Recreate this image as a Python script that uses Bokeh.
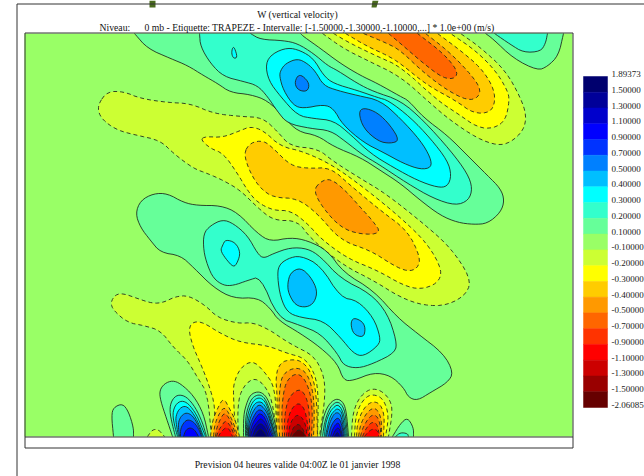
from bokeh.plotting import figure
from bokeh.models import Range1d
from bokeh.core.properties import value
from bokeh.embed import file_html
from bokeh.resources import INLINE

TITLE = "W (vertical velocity)"
SUB_A = "Niveau:"
SUB_B = "0 mb - Etiquette: TRAPEZE - Intervalle: [-1.50000,-1.30000,-1.10000,...] * 1.0e+00 (m/s)"
FOOT = "Prevision 04 heures valide 04:00Z le 01 janvier 1998"
LABELS = ["1.89373","1.50000","1.30000","1.10000","0.90000","0.70000","0.50000","0.40000","0.30000","0.20000","0.10000",
          "-0.10000","-0.20000","-0.30000","-0.40000","-0.50000","-0.70000","-0.90000","-1.10000","-1.30000","-1.50000","-2.06085"]
COLOURS = ["#00006e","#000099","#0000cc","#0000ff","#0033ff","#0080ff","#00bfff","#00ffff","#33ffcc","#66ff99","#99ff66",
           "#ccff33","#ffff00","#ffcc00","#ff9900","#ff6600","#ff3300","#ff0000","#cc0000","#990000","#660000"]
LEVELS = [1.5,1.3,1.1,0.9,0.7,0.5,0.4,0.3,0.2,0.1,0,-0.1,-0.2,-0.3,-0.4,-0.5,-0.7,-0.9,-1.1,-1.3,-1.5]
FILL = dict(zip(LEVELS, COLOURS))

X0, X1, Y0, Y1, Y2 = 24, 572, 33, 436, 447

# Contours: (level, [(x, y), ...]); painted outer to inner
BAND_A = [
 (0.1,[(134,33),(147,48),(170,58),(187,65),(203,75),(217,83),(230,92),(250,94),(267,100),(283,116),(297,131),(317,135),(333,146),(360,157),(380,170),(400,183),(420,200),(440,215),(457,222),(473,224),(487,223),(500,212),(504,200),(500,188),(487,175),(467,155),(447,135),(423,117),(408,100),(400,96),(377,83),(360,75),(340,63),(320,48),(303,36),(300,33)]),
 (0.2,[(199,33),(200,46),(210,63),(223,76),(243,81),(257,85),(267,96),(277,111),(287,123),(310,128),(330,130),(345,141),(363,155),(377,163),(407,183),(433,198),(455,205),(468,200),(472,188),(467,173),(450,150),(423,120),(400,100),(373,91),(357,83),(337,70),(327,65),(313,53),(297,43),(283,40),(260,39),(250,33)]),
 (0.3,[(232,47),(234,47),(237,57),(233,58),(231,53)]),
 (0.3,[(265,63),(272,53),(287,47),(300,50),(313,58),(323,75),(333,83),(357,90),(377,97),(388,100),(410,117),(430,138),(447,160),(451,175),(447,186),(437,187),(417,180),(393,167),(370,153),(350,134),(333,120),(313,118),(297,115),(280,96),(268,80)]),
 (0.4,[(280,70),(285,63),(297,58),(307,63),(315,71),(323,85),(337,90),(357,95),(380,100),(400,118),(420,140),(430,157),(431,167),(420,169),(403,163),(383,152),(363,142),(342,124),(333,108),(323,104),(303,108),(293,105),(283,90),(279,76)]),
 (0.5,[(297,75),(302,75),(309,83),(307,91),(298,90),(294,83)]),
 (0.5,[(358,112),(363,107),(377,112),(390,125),(399,140),(390,143),(378,141),(363,128)]),
 (0.1,[(485,33),(492,38),(513,58),(537,70),(547,66),(558,55),(563,33)]),
 (0.2,[(494,33),(510,44),(523,52),(540,51),(545,43),(547,33)]),
]
BAND_B = [
 (-0.1,[(322,33),(343,48),(367,60),(400,76),(430,103),(450,120),(477,138),(497,145),(510,142),(523,130),(526,115),(520,97),(505,70),(480,47),(460,33)]),
 (-0.2,[(333,33),(350,43),(377,56),(400,66),(437,100),(457,113),(477,127),(493,128),(505,120),(509,100),(507,90),(495,70),(475,50),(450,33)]),
 (-0.3,[(345,33),(367,46),(387,55),(400,63),(427,85),(455,100),(473,113),(490,112),(495,100),(492,85),(480,67),(460,50),(437,33)]),
 (-0.4,[(363,33),(387,43),(400,50),(423,72),(447,90),(467,100),(478,97),(480,87),(467,70),(447,50),(425,33)]),
 (-0.5,[(388,33),(400,43),(423,63),(443,78),(455,78),(457,70),(443,53),(417,33)]),
]
BAND_C = [
 (-0.1,[(98,103),(107,91),(123,91),(140,98),(167,102),(190,103),(213,113),(240,116),(262,117),(277,131),(290,146),(317,148),(333,161),(360,178),(385,193),(423,223),(450,247),(470,277),(467,293),(447,305),(423,305),(400,297),(373,280),(343,265),(310,238),(297,220),(273,220),(257,207),(240,190),(223,180),(207,173),(193,168),(173,153),(160,140),(133,134),(118,130),(105,122),(98,113)]),
 (-0.2,[(200,139),(205,136),(222,137),(240,130),(250,126),(263,130),(280,146),(303,151),(333,165),(367,190),(400,217),(427,243),(442,270),(437,283),(420,289),(403,285),(377,270),(347,258),(320,238),(307,223),(290,210),(273,210),(257,202),(247,190),(237,173),(223,153),(210,148)]),
 (-0.3,[(243,153),(250,142),(263,140),(273,148),(290,165),(307,168),(330,167),(350,185),(380,210),(407,230),(420,257),(417,268),(407,271),(393,265),(370,250),(340,240),(317,213),(297,198),(273,197),(260,188),(250,173)]),
 (-0.4,[(313,190),(320,181),(330,178),(345,190),(360,207),(372,220),(381,233),(360,234),(340,227),(322,207)]),
]
BAND_D = [
 (0.1,[(135,213),(140,200),(153,193),(167,193),(183,202),(197,205),(220,205),(237,212),(257,233),(270,241),(290,237),(307,240),(327,250),(343,272),(373,290),(397,317),(417,333),(443,353),(453,372),(447,382),(430,392),(417,400),(408,397),(403,387),(390,375),(373,372),(353,380),(343,380),(337,363),(320,347),(300,333),(278,320),(270,308),(257,297),(233,298),(213,287),(193,267),(180,255),(160,252),(150,240),(140,227)]),
 (0.2,[(203,233),(210,225),(222,219),(233,223),(247,235),(257,253),(263,258),(273,253),(290,247),(307,248),(320,256),(340,278),(370,293),(387,313),(396,340),(395,352),(373,363),(357,368),(343,365),(337,353),(320,333),(300,325),(277,317),(260,276),(247,280),(233,285),(223,285),(213,278),(207,265),(203,250)]),
 (0.3,[(222,245),(225,239),(235,242),(240,252),(237,262),(233,267),(225,258),(220,250)]),
 (0.3,[(277,277),(278,265),(287,258),(300,255),(320,265),(340,297),(357,300),(373,317),(380,337),(378,345),(363,356),(353,353),(340,337),(323,320),(300,317),(287,312),(280,297)]),
 (0.4,[(287,283),(290,272),(300,267),(310,276),(317,290),(314,302),(306,307),(295,305),(288,293)]),
 (0.4,[(350,323),(353,317),(362,321),(365,328),(363,337),(353,334)]),
]
BAND_E = [
 (-0.1,[(211,436),(207,393),(197,377),(187,360),(173,347),(160,330),(143,325),(127,322),(113,310),(110,302),(115,294),(123,293),(137,298),(152,303),(163,302),(175,296),(188,295),(205,305),(217,317),(237,323),(253,322),(270,330),(280,337),(293,345),(313,355),(323,373),(325,395),(319,436)]),
 (-0.2,[(213,436),(215,407),(208,383),(200,363),(192,345),(188,328),(193,321),(203,322),(220,333),(240,342),(267,345),(287,353),(303,357),(313,370),(318,390),(317,436)]),
 (-0.1,[(235,436),(233,397),(233,383),(240,367),(252,360),(263,370),(275,387),(276,436)]),
 (0,[(238,436),(237,410),(240,390),(252,377),(263,383),(272,400),(276,436)]),
]
LOBE_A = [
 (-0.3,[(210,436),(212,420),(217,408),(223,397),(229,408),(235,420),(239,436)]),
 (-0.4,[(213,436),(214,425),(218,414),(224,406),(229,414),(234,425),(237,436)]),
 (-0.5,[(215,436),(216,428),(220,418),(224,412),(229,418),(233,428),(236,436)]),
 (-0.7,[(216,436),(218,430),(222,424),(225,420),(229,424),(232,430),(234,436)]),
 (-0.9,[(218,436),(220,432),(224,428),(226,427),(229,429),(232,436)]),
]
LOBE_B = [
 (-0.3,[(276,436),(277,400),(275,375),(280,362),(290,359),(300,360),(310,370),(316,392),(317,436)]),
 (-0.4,[(279,436),(278,410),(280,378),(287,370),(297,367),(306,372),(312,388),(314,410),(313,436)]),
 (-0.5,[(282,436),(281,410),(284,385),(290,376),(297,373),(304,378),(310,393),(312,412),(311,436)]),
 (-0.7,[(284,436),(284,415),(288,397),(298,388),(305,394),(309,410),(309,436)]),
 (-0.9,[(286,436),(287,420),(291,408),(298,402),(304,408),(307,422),(308,436)]),
 (-1.1,[(288,436),(289,425),(293,417),(298,414),(303,419),(306,428),(306,436)]),
 (-1.3,[(290,436),(292,428),(297,423),(302,427),(305,436)]),
 (-1.5,[(292,436),(295,431),(299,429),(303,432),(304,436)]),
]
LOBE_C = [
 (-0.1,[(351,436),(352,415),(357,400),(365,391),(373,388),(382,391),(390,400),(392,412),(388,436)]),
 (-0.2,[(354,436),(355,418),(359,405),(366,396),(373,394),(381,397),(386,406),(388,418),(385,436)]),
 (-0.3,[(356,436),(357,422),(362,410),(368,403),(374,401),(380,404),(384,415),(383,436)]),
 (-0.4,[(358,436),(360,424),(365,414),(371,408),(376,408),(381,418),(381,436)]),
 (-0.5,[(360,436),(362,428),(367,419),(372,414),(377,416),(380,425),(380,436)]),
 (-0.7,[(362,436),(366,427),(372,421),(377,424),(379,436)]),
 (-0.9,[(364,436),(368,431),(373,428),(378,431),(378,436)]),
]
LOBE_P1 = [
 (0.1,[(172,436),(166,418),(160,400),(159,390),(164,383),(172,380),(180,383),(193,395),(203,413),(208,436)]),
 (0.2,[(175,436),(172,425),(169,410),(171,400),(177,394),(186,396),(195,407),(202,422),(206,436)]),
 (0.3,[(177,436),(174,425),(172,413),(175,404),(181,400),(188,403),(196,414),(201,426),(205,436)]),
 (0.4,[(178,436),(176,425),(175,417),(178,409),(184,405),(190,409),(197,420),(203,436)]),
 (0.5,[(179,436),(178,428),(178,421),(181,415),(186,412),(192,415),(198,425),(202,436)]),
 (0.7,[(180,436),(180,428),(184,421),(188,419),(194,422),(199,430),(201,436)]),
 (0.9,[(183,436),(185,430),(189,427),(194,429),(198,436)]),
]
LOBE_P2 = [
 (0.1,[(243,436),(243,415),(246,403),(250,394),(257,391),(263,393),(268,400),(273,415),(277,436)]),
 (0.2,[(245,436),(245,417),(248,405),(252,397),(258,394),(263,396),(267,403),(272,418),(276,436)]),
 (0.3,[(246,436),(246,420),(249,408),(253,400),(258,397),(263,399),(267,406),(271,420),(275,436)]),
 (0.4,[(247,436),(247,422),(250,411),(254,403),(259,401),(263,403),(267,410),(271,423),(275,436)]),
 (0.5,[(248,436),(248,424),(251,414),(255,407),(259,404),(263,407),(267,413),(271,425),(274,436)]),
 (0.7,[(248,436),(249,426),(252,418),(256,411),(259,409),(263,411),(267,418),(270,427),(273,436)]),
 (0.9,[(249,436),(250,429),(253,421),(257,415),(259,413),(263,415),(266,421),(269,429),(272,436)]),
 (1.1,[(250,436),(251,431),(254,425),(258,420),(260,418),(263,420),(266,425),(268,431),(270,436)]),
 (1.3,[(252,436),(254,430),(257,425),(260,423),(263,425),(266,430),(268,436)]),
 (1.5,[(254,436),(257,431),(260,428),(263,431),(266,436)]),
]
LOBE_P3 = [
 (0.1,[(320,436),(322,420),(326,408),(331,401),(337,398),(343,402),(346,412),(348,436)]),
 (0.2,[(322,436),(324,422),(328,410),(332,404),(337,401),(342,405),(345,414),(347,436)]),
 (0.3,[(324,436),(325,423),(329,412),(333,407),(337,404),(341,408),(344,417),(346,436)]),
 (0.4,[(325,436),(327,425),(330,415),(334,410),(337,408),(341,411),(343,420),(345,436)]),
 (0.5,[(326,436),(328,426),(331,418),(334,413),(337,412),(340,414),(342,422),(344,436)]),
 (0.7,[(328,436),(330,427),(333,421),(337,417),(340,420),(342,428),(343,436)]),
 (0.9,[(330,436),(332,429),(335,424),(338,422),(340,427),(342,436)]),
 (1.1,[(332,436),(335,429),(338,427),(340,431),(341,436)]),
 (1.3,[(334,436),(337,431),(339,436)]),
]
SMALL = [
 (0.1,[(113,436),(111,415),(113,407),(122,403),(128,411),(133,427),(133,436)]),
 (-0.1,[(147,436),(152,429),(158,429),(164,436)]),
 (0.1,[(392,436),(400,423),(407,417),(413,427),(413,436)]),
 (0.2,[(395,436),(400,432),(407,433),(408,436)]),
]
CONTOURS = BAND_A + BAND_B + BAND_C + BAND_D + BAND_E + LOBE_A + LOBE_B + LOBE_C + LOBE_P1 + LOBE_P2 + LOBE_P3 + SMALL


def rounded(pts, closed):
    # corner rounding of the drawn curve (the read vertices stay as above)
    for _ in range(2):
        src = pts + pts[:1] if closed else pts
        out = [] if closed else [src[0]]
        for (a, b), (c, d) in zip(src[:-1], src[1:]):
            out.append((0.75 * a + 0.25 * c, 0.75 * b + 0.25 * d))
            out.append((0.25 * a + 0.75 * c, 0.25 * b + 0.75 * d))
        if not closed:
            out.append(src[-1])
        pts = out
    return pts


p = figure(width=644, height=476, x_range=Range1d(0, 644), y_range=Range1d(476, 0),
           x_axis_type=None, y_axis_type=None, toolbar_location=None, output_backend="svg",
           min_border=0, outline_line_color=None, background_fill_color="white", border_fill_color="white")
p.grid.visible = False
p.styles = {"position": "absolute", "left": "0px", "top": "0px"}

# tabs above the frame
for xs in ([149, 155, 155, 149], [372, 378, 376, 371]):
    p.patch(xs, [0, 0, 7, 7], fill_color="#4a6b1e", line_color=None)

# field
p.quad(left=[X0], right=[X1], top=[Y0], bottom=[Y1], fill_color=FILL[0], line_color=None)
for level, pts in CONTOURS:
    open_curve = pts[0][1] in (Y0, Y1) and pts[-1][1] in (Y0, Y1)
    curve = rounded(pts, not open_curve)
    xs = [a for a, b in curve]
    ys = [b for a, b in curve]
    p.patch(xs, ys, fill_color=FILL[level], line_color=None)
    if not open_curve:
        xs = xs + xs[:1]
        ys = ys + ys[:1]
    kw = dict(line_color="#1c261c", line_alpha=0.85, line_width=1, line_join="round")
    if level <= 0:
        kw["line_dash"] = "4 3"
    p.line(xs, ys, **kw)

# frames
frame = dict(line_color="#333333", line_width=1)
p.line([16.5, 16.5], [476, 3.5], **frame)
p.line([16.5, 644], [3.5, 3.5], **frame)
p.line([X0 + .5, X1 + .5, X1 + .5, X0 + .5, X0 + .5], [Y0 - .5, Y0 - .5, Y2 + .5, Y2 + .5, Y0 - .5], **frame)
p.line([X0 + .5, X1 + .5], [Y1 + .5, Y1 + .5], **frame)

# colour bar
step = (407 - 76) / len(COLOURS)
tops = [76 + step * i for i in range(len(COLOURS))]
p.quad(left=583, right=607, top=tops, bottom=[t + step for t in tops], fill_color=COLOURS, line_color=COLOURS, line_width=0.5)
p.text(x=[611] * len(LABELS), y=[73.5 + step * i for i in range(len(LABELS))], text=LABELS,
       text_font=value("Liberation Serif"), text_font_size="9px", text_baseline="middle", text_color="#222222")

# texts
serif = dict(text_font=value("Liberation Serif"), text_font_size="9.7px", text_baseline="middle", text_color="#111111")
p.text(x=[297], y=[14], text=[TITLE], text_align="center", **serif)
p.text(x=[99], y=[26.5], text=[SUB_A], **serif)
p.text(x=[144], y=[26.5], text=[SUB_B], **serif)
p.text(x=[297], y=[463.5], text=[FOOT], text_align="center", **serif)

open("out.html", "w").write(file_html(p, INLINE))
